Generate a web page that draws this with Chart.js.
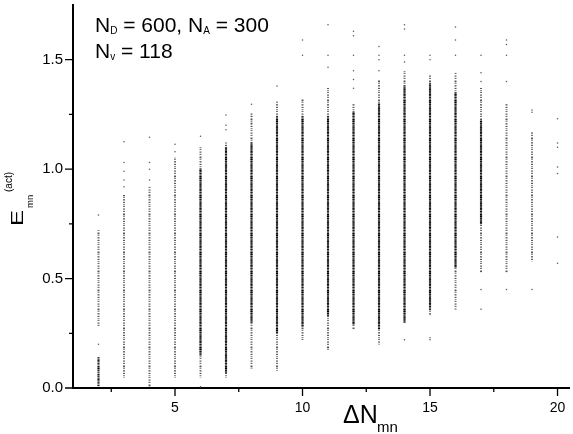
<!DOCTYPE html>
<html>
<head>
<meta charset="utf-8">
<script src="https://cdn.jsdelivr.net/npm/chart.js@4.4.1/dist/chart.umd.min.js"></script>
<style>
  html, body { margin: 0; padding: 0; background: #fff; }
</style>
</head>
<body>
<canvas id="chart" width="573" height="434"></canvas>
<script>
// one strip per ΔN
const deltaN = [2, 3, 4, 5, 6, 7, 8, 9, 10, 11, 12, 13, 14, 15, 16, 17, 18, 19, 20];
// full (sparse) extent of each strip
const faintLow  = [0.28, 0.05, 0.00, 0.05, 0.05, 0.05, 0.09, 0.08, 0.22, 0.17, 0.27, 0.20, 0.30, 0.33, 0.36, 0.53, 0.53, 0.58, null];
const faintHigh = [0.72, 0.88, 0.92, 1.05, 1.10, 1.12, 1.26, 1.31, 1.32, 1.37, 1.30, 1.41, 1.45, 1.43, 1.44, 1.37, 1.30, 1.17, null];
// dark core of each strip
const denseLow  = [0.01, null, null, null, 0.15, 0.07, 0.30, 0.25, 0.28, 0.33, 0.29, 0.27, 0.30, 0.36, 0.55, 0.75, null, null, null];
const denseHigh = [0.14, null, null, null, 1.00, 1.10, 1.12, 1.24, 1.24, 1.24, 1.26, 1.30, 1.38, 1.39, 1.35, 1.22, null, null, null];
// isolated points outside the strips
const strays = [
  [2, 0.20], [2, 0.79],
  [3, 0.92], [3, 0.95], [3, 0.99], [3, 1.03], [3, 1.125],
  [4, 0.95], [4, 1.00], [4, 1.03], [4, 1.146],
  [5, 1.08], [5, 1.114],
  [6, 0.006], [6, 1.15],
  [7, 1.18], [7, 1.20], [7, 1.247],
  [8, 1.21], [8, 1.24], [8, 1.297],
  [9, 1.38],
  [10, 1.52], [10, 1.59],
  [11, 1.466], [11, 1.52], [11, 1.66],
  [12, 1.37], [12, 1.41], [12, 1.45], [12, 1.52], [12, 1.61], [12, 1.63],
  [13, 1.45], [13, 1.50], [13, 1.52], [13, 1.56],
  [14, 0.22], [14, 1.49], [14, 1.52], [14, 1.64], [14, 1.66],
  [15, 0.22], [15, 0.23], [15, 1.50], [15, 1.52],
  [16, 1.52], [16, 1.59], [16, 1.65],
  [17, 0.36], [17, 0.45], [17, 1.40], [17, 1.44], [17, 1.52],
  [18, 0.45], [18, 1.40], [18, 1.52], [18, 1.57], [18, 1.59],
  [19, 0.45], [19, 1.26], [19, 1.27],
  [20, 0.57], [20, 0.69], [20, 0.98], [20, 1.01], [20, 1.10], [20, 1.12], [20, 1.23]
];
const xTicks = [5, 10, 15, 20];
const xMinor = [2.5, 7.5, 12.5, 17.5];
const yTicks = [0, 0.5, 1.0, 1.5];
const yMinor = [0.25, 0.75, 1.25];

const canvas = document.getElementById('chart');
const ctx = canvas.getContext('2d');

// speckled fill so the strips look like stacked dots
function stipple(code) {
  const c = document.createElement('canvas');
  c.width = 2;
  c.height = code.length;
  const g = c.getContext('2d');
  [...code].forEach((ch, i) => {
    g.fillStyle = 'rgba(0,0,0,' + (+ch / 9) + ')';
    g.fillRect(0, i, 2, 1);
  });
  return ctx.createPattern(c, 'repeat');
}

const FONT = '"Liberation Sans", Arial, sans-serif';

// draw a row of text pieces: [text, size, dy, stretch]
function runs(c, x, y, parts) {
  parts.forEach(([t, size, dy, sx = 1]) => {
    c.font = size + 'px ' + FONT;
    c.save();
    c.translate(x, y + dy);
    c.scale(sx, 1);
    c.fillText(t, 0, 0);
    c.restore();
    x += c.measureText(t).width * sx;
  });
}

const extras = {
  id: 'extras',
  afterDraw(chart) {
    const c = chart.ctx;
    const xs = chart.scales.x, ys = chart.scales.y;
    const a = chart.chartArea;
    c.save();
    c.strokeStyle = '#000';
    c.lineWidth = 1.3;
    c.beginPath();
    xTicks.forEach(v => { const p = xs.getPixelForValue(v); c.moveTo(p, a.bottom); c.lineTo(p, a.bottom + 8); });
    xMinor.forEach(v => { const p = xs.getPixelForValue(v); c.moveTo(p, a.bottom); c.lineTo(p, a.bottom + 4); });
    yTicks.forEach(v => { const p = ys.getPixelForValue(v); c.moveTo(a.left, p); c.lineTo(a.left - 8, p); });
    yMinor.forEach(v => { const p = ys.getPixelForValue(v); c.moveTo(a.left, p); c.lineTo(a.left - 4, p); });
    c.stroke();

    c.fillStyle = '#000';
    c.textBaseline = 'alphabetic';
    c.textAlign = 'left';
    // annotation
    runs(c, a.left + 22, 32, [['N', 21, 0], ['D', 10, 2], [' = 600, ', 21, 0], ['N', 21, 0], ['A', 10, 2], [' = 300', 21, 0]]);
    runs(c, a.left + 22, 58, [['N', 21, 0], ['v', 10, 2], [' = 118', 21, 0]]);
    // x title
    runs(c, a.left + 270, 423, [['ΔN', 25, 0]]);
    runs(c, a.left + 304, 432, [['mn', 15, 0]]);
    // y title, rotated
    c.translate(23, 226);
    c.rotate(-Math.PI / 2);
    runs(c, 0, 0, [['E', 16, 0, 1.5]]);
    runs(c, 18, 10, [['mn', 9.5, 0]]);
    runs(c, 34, -11, [['(act)', 10, 0]]);
    c.restore();
  }
};

// no extra room for edge labels: axes end where the figure's do
const noPad = s => { s.paddingTop = 0; s.paddingBottom = 0; s.paddingLeft = 0; s.paddingRight = 0; };

new Chart(canvas, {
  type: 'scatter',
  data: {
    datasets: [
      {
        type: 'bar',
        data: deltaN.map((x, i) => faintLow[i] == null ? null : { x, y: [faintLow[i], faintHigh[i]] }).filter(Boolean),
        backgroundColor: stipple('4150362405316041503'),
        barThickness: 1.3,
        borderWidth: 0,
        grouped: false,
        order: 3
      },
      {
        type: 'bar',
        data: deltaN.map((x, i) => denseLow[i] == null ? null : { x, y: [denseLow[i], denseHigh[i]] }).filter(Boolean),
        backgroundColor: stipple('6475386957463857468'),
        barThickness: 1.5,
        borderWidth: 0,
        grouped: false,
        order: 2
      },
      {
        type: 'scatter',
        data: strays.map(([x, y]) => ({ x, y })),
        pointRadius: 0.75,
        pointBackgroundColor: '#555',
        pointBorderWidth: 0,
        order: 1
      }
    ]
  },
  options: {
    responsive: false,
    animation: false,
    devicePixelRatio: 1,
    layout: { padding: { top: 5, right: 0, left: 0, bottom: 0 } },
    plugins: { legend: { display: false }, tooltip: { enabled: false } },
    scales: {
      x: {
        type: 'linear',
        min: 1,
        max: 20.45,
        offset: false,
        grid: { display: false, offset: false, drawTicks: false },
        border: { color: '#000', width: 2 },
        afterBuildTicks: s => { s.ticks = xTicks.map(value => ({ value })); },
        afterFit: s => { s.height = 46; noPad(s); },
        ticks: {
          autoSkip: false,
          maxRotation: 0,
          padding: 12,
          color: '#000',
          font: { family: FONT, size: 14 },
          callback: v => String(v)
        }
      },
      y: {
        type: 'linear',
        min: 0,
        max: 1.75,
        grid: { display: false, drawTicks: false },
        border: { color: '#000', width: 2 },
        afterBuildTicks: s => { s.ticks = yTicks.map(value => ({ value })); },
        afterFit: s => { s.width = 73; noPad(s); },
        ticks: {
          autoSkip: false,
          padding: 10,
          color: '#000',
          font: { family: FONT, size: 15 },
          callback: v => v.toFixed(1)
        }
      }
    }
  },
  plugins: [extras]
});
</script>
</body>
</html>
